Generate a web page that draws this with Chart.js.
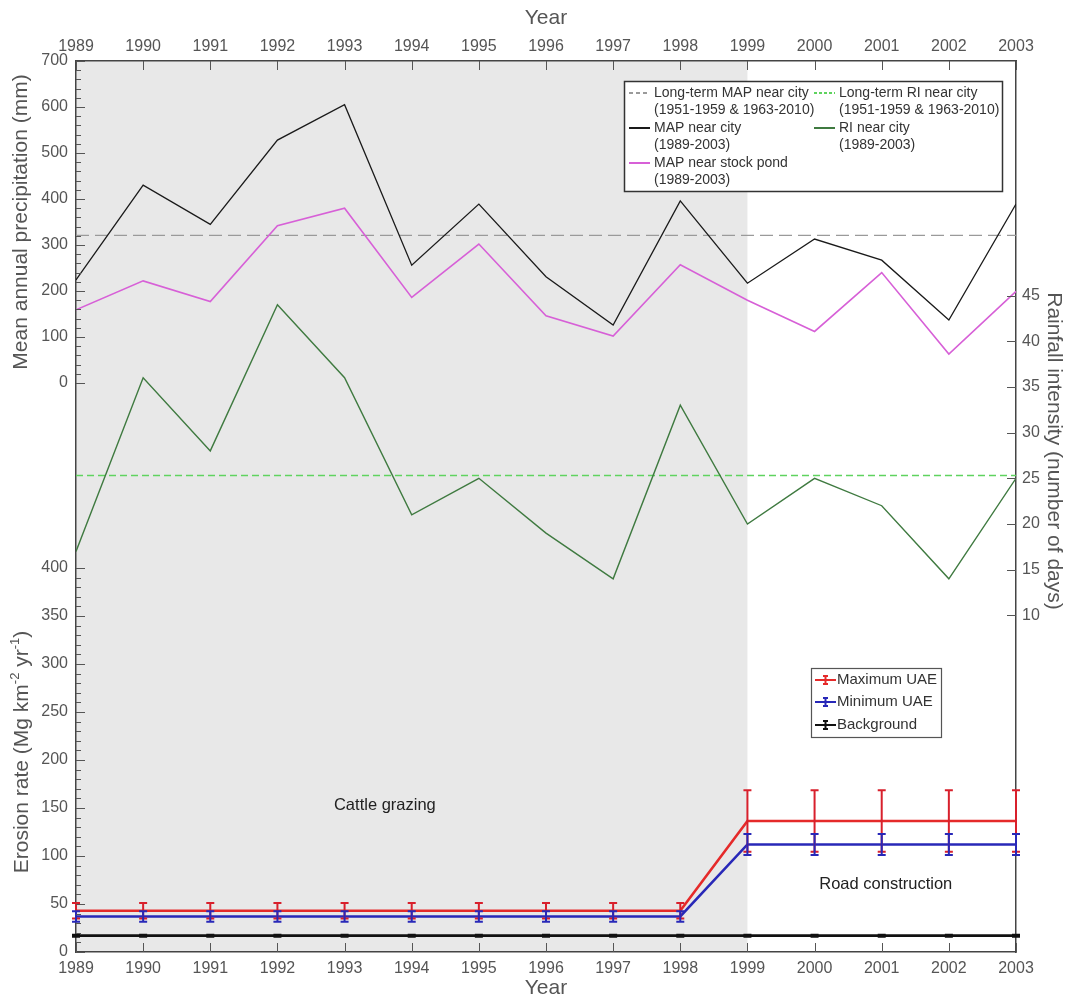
<!DOCTYPE html>
<html>
<head>
<meta charset="utf-8">
<title>Precipitation, rainfall intensity and erosion rate 1989-2003</title>
<script src="https://cdn.jsdelivr.net/npm/chart.js@4.4.1/dist/chart.umd.min.js"></script>
<style>
    html, body { margin: 0; padding: 0; background: #fff; }
    #wrap { width: 1070px; height: 1001px; position: relative; }
</style>
</head>
<body>
<div id="wrap"><canvas id="my-chart"></canvas></div>
<script>
/*
    Data
*/
const years = [1989, 1990, 1991, 1992, 1993, 1994, 1995, 1996, 1997, 1998, 1999, 2000, 2001, 2002, 2003];

// mean annual precipitation (mm)
const map_city = [224, 430, 345, 528, 605, 256, 389, 231, 126, 396, 217, 313, 267, 137, 389];
const map_pond = [159, 222, 177, 342, 380, 186, 302, 146, 102, 257, 180, 112, 240, 63, 199];
const map_longterm = 321;

// rainfall intensity (number of days)
const ri_city = [17, 36, 28, 44, 36, 21, 25, 19, 14, 33, 20, 25, 22, 14, 25];
const ri_longterm = 25.3;

// erosion rate (Mg km-2 yr-1)
const uae_max     = [43, 43, 43, 43, 43, 43, 43, 43, 43, 43, 136.5, 136.5, 136.5, 136.5, 136.5];
const uae_max_err = [8, 8, 8, 8, 8, 8, 8, 8, 8, 8, 32, 32, 32, 32, 32];
const uae_min     = [37, 37, 37, 37, 37, 37, 37, 37, 37, 37, 112, 112, 112, 112, 112];
const uae_min_err = [5.5, 5.5, 5.5, 5.5, 5.5, 5.5, 5.5, 5.5, 5.5, 5.5, 11, 11, 11, 11, 11];
const background     = [17, 17, 17, 17, 17, 17, 17, 17, 17, 17, 17, 17, 17, 17, 17];
const background_err = [1, 1, 1, 1, 1, 1, 1, 1, 1, 1, 1, 1, 1, 1, 1];

// grazing period (shaded)
const grazing_start = 1989;
const grazing_end = 1999;

// tick labels
const year_ticks = years;
const precip_ticks = [0, 100, 200, 300, 400, 500, 600, 700];
const erosion_ticks = [0, 50, 100, 150, 200, 250, 300, 350, 400];
const rain_ticks = [10, 15, 20, 25, 30, 35, 40, 45];

/*
    Styles
*/
const FONT = 'Arial, "Liberation Sans", sans-serif';
const AXIS_GREY = '#555';
const C_MAP_LT = '#9a9a9a';
const C_RI_LT = '#5fd35f';
const C_MAP = '#1a1a1a';
const C_RI = '#3f7a40';
const C_POND = '#d760d7';
const C_MAX = '#e52a2a';
const C_MIN = '#2828b8';
const C_BG = '#111';

const pts = (vals) => vals.map((v, i) => ({ x: years[i], y: v }));
const flat = (v) => [{ x: years[0], y: v }, { x: years[years.length - 1], y: v }];
const setTicks = (vals) => (scale) => { scale.ticks = vals.map(v => ({ value: v })); };

function drawRotated(ctx, text, x, y, angle, font) {
    ctx.save();
    ctx.translate(x, y);
    ctx.rotate(angle);
    ctx.font = font;
    ctx.textAlign = 'center';
    ctx.textBaseline = 'middle';
    ctx.fillText(text, 0, 0);
    ctx.restore();
}

function drawErrors(ctx, xs, ys, vals, errs, color) {
    ctx.save();
    ctx.strokeStyle = color;
    ctx.lineWidth = 2;
    vals.forEach((v, i) => {
        const px = xs.getPixelForValue(years[i]);
        const top = ys.getPixelForValue(v + errs[i]);
        const bot = ys.getPixelForValue(v - errs[i]);
        ctx.beginPath();
        ctx.moveTo(px, top); ctx.lineTo(px, bot);
        ctx.moveTo(px - 4, top); ctx.lineTo(px + 4, top);
        ctx.moveTo(px - 4, bot); ctx.lineTo(px + 4, bot);
        ctx.stroke();
    });
    ctx.restore();
}

// inward tick marks on the plot frame
function drawTickMarks(ctx, scale, values, len, side, area) {
    ctx.beginPath();
    values.forEach(v => {
        const p = Math.round(scale.getPixelForValue(v)) + 0.5;
        if (side === 'left') { ctx.moveTo(area.left, p); ctx.lineTo(area.left + len, p); }
        if (side === 'right') { ctx.moveTo(area.right, p); ctx.lineTo(area.right - len, p); }
        if (side === 'top') { ctx.moveTo(p, area.top); ctx.lineTo(p, area.top + len); }
        if (side === 'bottom') { ctx.moveTo(p, area.bottom); ctx.lineTo(p, area.bottom - len); }
    });
    ctx.stroke();
}

const range = (a, b, step) => { const r = []; for (let v = a; v <= b; v += step) r.push(v); return r; };

const extras = {
    id: 'extras',
    afterLayout(chart) {
        // precipitation axis shares the left margin with the erosion axis,
        // widen its box so its labels are not clipped
        const s = chart.scales.yPrecip;
        s.left = 0;
        s.width = s.right - s.left;
    },
    beforeDraw(chart) {
        // shaded grazing period
        const { ctx, chartArea, scales } = chart;
        const x0 = scales.x.getPixelForValue(grazing_start);
        const x1 = scales.x.getPixelForValue(grazing_end);
        ctx.save();
        ctx.fillStyle = '#e8e8e8';
        ctx.fillRect(x0, chartArea.top, x1 - x0, chartArea.bottom - chartArea.top);
        ctx.restore();
    },
    afterDatasetsDraw(chart) {
        const { ctx, scales } = chart;
        drawErrors(ctx, scales.x, scales.yErosion, background, background_err, C_BG);
        drawErrors(ctx, scales.x, scales.yErosion, uae_max, uae_max_err, '#d8202c');
        drawErrors(ctx, scales.x, scales.yErosion, uae_min, uae_min_err, C_MIN);
    },
    afterDraw(chart) {
        const { ctx, chartArea: area, scales } = chart;
        ctx.save();

        // tick marks
        ctx.strokeStyle = AXIS_GREY;
        ctx.lineWidth = 1;
        drawTickMarks(ctx, scales.yPrecip, precip_ticks, 9, 'left', area);
        drawTickMarks(ctx, scales.yPrecip, range(0, 700, 20), 5, 'left', area);
        drawTickMarks(ctx, scales.yErosion, erosion_ticks, 9, 'left', area);
        drawTickMarks(ctx, scales.yErosion, range(0, 400, 10), 5, 'left', area);
        drawTickMarks(ctx, scales.yRain, rain_ticks, 9, 'right', area);
        drawTickMarks(ctx, scales.x, year_ticks, 9, 'bottom', area);
        drawTickMarks(ctx, scales.xTop, year_ticks, 9, 'top', area);

        // axis titles
        ctx.fillStyle = AXIS_GREY;
        const TITLE = '21px ' + FONT;
        drawRotated(ctx, 'Year', (area.left + area.right) / 2, 18, 0, TITLE);
        drawRotated(ctx, 'Year', (area.left + area.right) / 2, 988, 0, TITLE);
        drawRotated(ctx, 'Mean annual precipitation (mm)', 21, 222, -Math.PI / 2, TITLE);
        drawRotated(ctx, 'Rainfall intensity (number of days)', 1054, 451, Math.PI / 2, TITLE);

        // erosion title with superscripts
        const parts = [['Erosion rate (Mg km', false], ['-2', true], [' yr', false], ['-1', true], [')', false]];
        const SUP = '13px ' + FONT;
        let total = 0;
        parts.forEach(([t, sup]) => { ctx.font = sup ? SUP : TITLE; total += ctx.measureText(t).width; });
        ctx.save();
        ctx.translate(22, 752);
        ctx.rotate(-Math.PI / 2);
        ctx.textBaseline = 'middle';
        ctx.textAlign = 'left';
        let tx = -total / 2;
        parts.forEach(([t, sup]) => {
            ctx.font = sup ? SUP : TITLE;
            ctx.fillText(t, tx, sup ? -7 : 0);
            tx += ctx.measureText(t).width;
        });
        ctx.restore();

        // period labels
        ctx.fillStyle = '#222';
        ctx.font = '16.5px ' + FONT;
        ctx.textAlign = 'center';
        ctx.textBaseline = 'middle';
        ctx.fillText('Cattle grazing', scales.x.getPixelForValue(1993.6), scales.yErosion.getPixelForValue(153));
        ctx.fillText('Road construction', scales.x.getPixelForValue(2001.06), scales.yErosion.getPixelForValue(70));

        // precipitation / rainfall legend
        ctx.fillStyle = '#fff';
        ctx.fillRect(624.5, 81.5, 378, 110);
        ctx.strokeStyle = '#333';
        ctx.lineWidth = 1.5;
        ctx.strokeRect(624.5, 81.5, 378, 110);
        const items = [
            { x: 629, y: 93, color: C_MAP_LT, dash: [4, 3], lines: ['Long-term MAP near city', '(1951-1959 & 1963-2010)'] },
            { x: 814, y: 93, color: C_RI_LT, dash: [3, 2], lines: ['Long-term RI near city', '(1951-1959 & 1963-2010)'] },
            { x: 629, y: 128, color: C_MAP, dash: [], lines: ['MAP near city', '(1989-2003)'] },
            { x: 814, y: 128, color: C_RI, dash: [], lines: ['RI near city', '(1989-2003)'] },
            { x: 629, y: 163, color: C_POND, dash: [], lines: ['MAP near stock pond', '(1989-2003)'] }
        ];
        ctx.font = '14px ' + FONT;
        ctx.textAlign = 'left';
        items.forEach(it => {
            ctx.strokeStyle = it.color;
            ctx.lineWidth = 2;
            ctx.setLineDash(it.dash);
            ctx.beginPath();
            ctx.moveTo(it.x, it.y); ctx.lineTo(it.x + 21, it.y);
            ctx.stroke();
            ctx.setLineDash([]);
            ctx.fillStyle = '#333';
            it.lines.forEach((l, k) => ctx.fillText(l, it.x + 25, it.y + k * 17.5));
        });

        // erosion legend
        ctx.fillStyle = '#fff';
        ctx.fillRect(811.5, 668.5, 130, 69);
        ctx.strokeStyle = '#555';
        ctx.lineWidth = 1.2;
        ctx.strokeRect(811.5, 668.5, 130, 69);
        const eitems = [
            { y: 680, color: C_MAX, label: 'Maximum UAE' },
            { y: 702, color: C_MIN, label: 'Minimum UAE' },
            { y: 725, color: C_BG, label: 'Background' }
        ];
        ctx.font = '15px ' + FONT;
        eitems.forEach(it => {
            ctx.strokeStyle = it.color;
            ctx.lineWidth = 2;
            ctx.beginPath();
            ctx.moveTo(815, it.y); ctx.lineTo(836, it.y);
            ctx.moveTo(825.5, it.y - 4); ctx.lineTo(825.5, it.y + 4);
            ctx.moveTo(823, it.y - 4); ctx.lineTo(828, it.y - 4);
            ctx.moveTo(823, it.y + 4); ctx.lineTo(828, it.y + 4);
            ctx.stroke();
            ctx.fillStyle = '#333';
            ctx.fillText(it.label, 837, it.y);
        });

        ctx.restore();
    }
};

const lineSet = (label, data, color, width, yAxisID, dash) => ({
    label: label,
    data: data,
    borderColor: color,
    backgroundColor: color,
    borderWidth: width,
    borderDash: dash || [],
    pointRadius: 0,
    fill: false,
    tension: 0,
    xAxisID: 'x',
    yAxisID: yAxisID
});

const tickFont = { family: FONT, size: 16 };
const ctx = document.getElementById('my-chart').getContext('2d');
const myChart = new Chart(ctx, {
    type: 'line',
    data: {
        datasets: [
            lineSet('Maximum UAE', pts(uae_max), C_MAX, 2.6, 'yErosion'),
            lineSet('Minimum UAE', pts(uae_min), C_MIN, 2.6, 'yErosion'),
            lineSet('Background', pts(background), C_BG, 2.8, 'yErosion'),
            lineSet('MAP near city (1989-2003)', pts(map_city), C_MAP, 1.3, 'yPrecip'),
            lineSet('MAP near stock pond (1989-2003)', pts(map_pond), C_POND, 1.6, 'yPrecip'),
            lineSet('RI near city (1989-2003)', pts(ri_city), C_RI, 1.4, 'yRain'),
            lineSet('Long-term MAP near city', flat(map_longterm), C_MAP_LT, 1.4, 'yPrecip', [13, 6]),
            lineSet('Long-term RI near city', flat(ri_longterm), C_RI_LT, 1.4, 'yRain', [7, 4])
        ]
    },
    options: {
        animation: false,
        responsive: true,
        maintainAspectRatio: false,
        layout: { padding: 0 },
        plugins: {
            legend: { display: false },
            tooltip: { enabled: false }
        },
        scales: {
            x: {
                type: 'linear', axis: 'x', position: 'bottom',
                min: 1989, max: 2003,
                afterBuildTicks: setTicks(year_ticks),
                afterFit: (s) => { s.height = 49; },
                grid: { display: false, drawTicks: false },
                border: { display: true, color: '#444', width: 1.5 },
                ticks: { font: tickFont, color: AXIS_GREY, padding: 7, autoSkip: false, maxRotation: 0,
                         callback: (v) => String(v) }
            },
            xTop: {
                type: 'linear', axis: 'x', position: 'top',
                min: 1989, max: 2003,
                afterBuildTicks: setTicks(year_ticks),
                afterFit: (s) => { s.height = 61; },
                grid: { display: false, drawTicks: false },
                border: { display: true, color: '#444', width: 1.5 },
                ticks: { font: tickFont, color: AXIS_GREY, padding: 5, autoSkip: false, maxRotation: 0,
                         callback: (v) => String(v) }
            },
            yErosion: {
                type: 'linear', axis: 'y', position: 'left', weight: 1,
                min: 0, max: 928.1,
                afterBuildTicks: setTicks(erosion_ticks),
                afterFit: (s) => { s.width = 76; },
                grid: { display: false, drawTicks: false },
                border: { display: false },
                ticks: { font: tickFont, color: AXIS_GREY, padding: 8, autoSkip: false }
            },
            yPrecip: {
                type: 'linear', axis: 'y', position: 'left', weight: 0,
                min: -1237, max: 700,
                afterBuildTicks: setTicks(precip_ticks),
                afterFit: (s) => { s.width = 0; },
                grid: { display: false, drawTicks: false },
                border: { display: true, color: '#444', width: 1.5 },
                ticks: { font: tickFont, color: AXIS_GREY, padding: 8, autoSkip: false }
            },
            yRain: {
                type: 'linear', axis: 'y', position: 'right',
                min: -26.83, max: 70.66,
                afterBuildTicks: setTicks(rain_ticks),
                afterFit: (s) => { s.width = 54; },
                grid: { display: false, drawTicks: false },
                border: { display: true, color: '#444', width: 1.5 },
                ticks: { font: tickFont, color: AXIS_GREY, padding: 6, autoSkip: false }
            }
        }
    },
    plugins: [extras]
});
</script>
</body>
</html>
